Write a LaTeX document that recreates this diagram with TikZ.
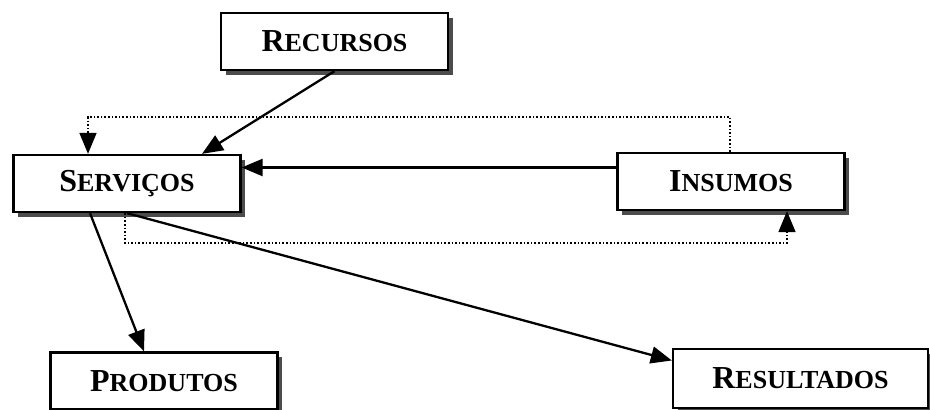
\documentclass[tikz,border=0pt]{standalone}
\usepackage{fontspec}
\setmainfont{Liberation Serif}
\usetikzlibrary{arrows.meta,shadows}
% bold small-caps label: large initial, smaller capitals after it
\newcommand\sclabel[2]{\bfseries{\fontsize{32}{32}\selectfont #1}{\fontsize{26}{26}\selectfont #2}}
\begin{document}
\begin{tikzpicture}[x=1pt,y=-1pt,
  blk/.style={draw=black,line width=2.3pt,fill=white,inner sep=0pt,
    minimum width=227pt,minimum height=57pt,
    drop shadow={shadow xshift=4.5pt,shadow yshift=-4.5pt,fill=black!70,opacity=1}},
  arr/.style={line width=2.3pt,-{Triangle[length=21pt,width=17pt]}},
  dots/.style={line width=1.6pt,dotted},
  darr/.style={dots,-{Triangle[length=21pt,width=17pt]}}]
\useasboundingbox (0,0) rectangle (930,410);

\node[blk] (rec)  at (334.5,41.5) {\sclabel{R}{ECURSOS}};
\node[blk] (serv) at (127,183.5)  {\sclabel{S}{ERVIÇOS}};
\node[blk] (ins)  at (731,181.5)  {\sclabel{I}{NSUMOS}};
\node[blk] (prod) at (164,381)    {\sclabel{P}{RODUTOS}};
\node[blk,minimum width=255pt,minimum height=59pt] (res) at (800.5,378.5) {\sclabel{R}{ESULTADOS}};

% dotted loop corners
\coordinate (tl) at (88,117);
\coordinate (tr) at (730,117);
\coordinate (bl) at (125,243);
\coordinate (br) at (787,243);

% solid connectors
\draw[arr] (rec.south) -- ([xshift=75pt]serv.north);
\draw[arr] ([yshift=14pt]ins.west) -- ([yshift=14pt]ins.west -| serv.east);
\draw[arr] ([xshift=-37pt]serv.south) -- ([xshift=-20pt]prod.north);
\draw[arr] (serv.south) -- ([yshift=18pt]res.west);

% dotted feedback paths
\draw[darr] (ins.north -| tr) -- (tr) -- (tl) -- (tl |- serv.north);
\draw[darr] (serv.south -| bl) -- (bl) -- (br) -- (br |- ins.south);
\end{tikzpicture}
\end{document}
